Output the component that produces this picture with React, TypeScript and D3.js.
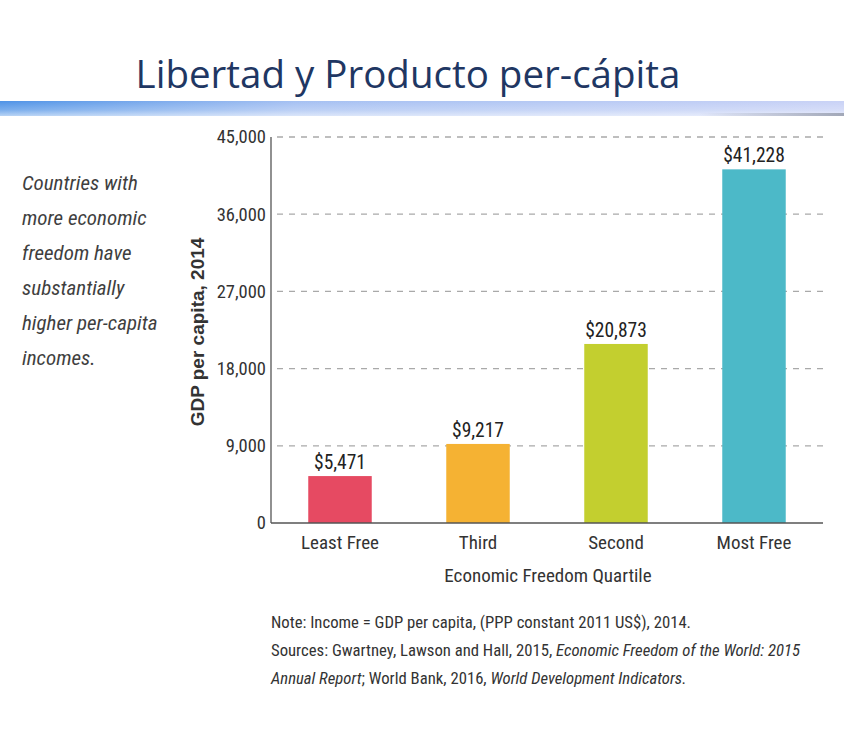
import React, { useEffect, useRef } from 'react';
import * as d3 from 'd3';

const categories = ['Least Free', 'Third', 'Second', 'Most Free'];
const gdpValues = [5471, 9217, 20873, 41228];
const barColors = ['#e64a62', '#f5b233', '#c3cf2f', '#4cb9c8'];
const yTicks = [0, 9000, 18000, 27000, 36000, 45000];
const sideNote = [
  'Countries with',
  'more economic',
  'freedom have',
  'substantially',
  'higher per-capita',
  'incomes.',
];

const narrow = "'Liberation Sans Narrow', 'Roboto Condensed', 'Arial Narrow', sans-serif";

const App: React.FC = () => {
  const svgRef = useRef<SVGSVGElement>(null);

  useEffect(() => {
    if (!svgRef.current) return;
    const svg = d3.select(svgRef.current);
    svg.selectAll('*').remove();

    const width = 866;
    const height = 749;
    svg.append('rect').attr('width', width).attr('height', height).attr('fill', '#fff');

    // Title
    svg.append('text')
      .attr('x', 408)
      .attr('y', 88)
      .attr('text-anchor', 'middle')
      .attr('font-family', "'Open Sans', sans-serif")
      .attr('font-size', 38.5)
      .attr('fill', '#1f3763')
      .text('Libertad y Producto per-cápita');

    // Blue band under the title
    const defs = svg.append('defs');
    const hGrad = defs.append('linearGradient').attr('id', 'bandH').attr('x1', 0).attr('x2', 1).attr('y1', 0).attr('y2', 0);
    hGrad.append('stop').attr('offset', '0%').attr('stop-color', '#4f93e6');
    hGrad.append('stop').attr('offset', '35%').attr('stop-color', '#a5c0f2');
    hGrad.append('stop').attr('offset', '100%').attr('stop-color', '#c9d2f6');
    const vGrad = defs.append('linearGradient').attr('id', 'bandV').attr('x1', 0).attr('x2', 0).attr('y1', 0).attr('y2', 1);
    vGrad.append('stop').attr('offset', '0%').attr('stop-color', '#fff').attr('stop-opacity', 0);
    vGrad.append('stop').attr('offset', '60%').attr('stop-color', '#fff').attr('stop-opacity', 0.25);
    vGrad.append('stop').attr('offset', '100%').attr('stop-color', '#fff').attr('stop-opacity', 0.6);
    const shGrad = defs.append('linearGradient').attr('id', 'bandS').attr('x1', 0).attr('x2', 1).attr('y1', 0).attr('y2', 0);
    shGrad.append('stop').attr('offset', '0%').attr('stop-color', '#9aa0b0').attr('stop-opacity', 0);
    shGrad.append('stop').attr('offset', '100%').attr('stop-color', '#9aa0b0').attr('stop-opacity', 0.9);

    svg.append('rect').attr('x', 0).attr('y', 101).attr('width', 844).attr('height', 15).attr('fill', 'url(#bandH)');
    svg.append('rect').attr('x', 0).attr('y', 101).attr('width', 844).attr('height', 15).attr('fill', 'url(#bandV)');
    svg.append('rect').attr('x', 700).attr('y', 113).attr('width', 144).attr('height', 3).attr('fill', 'url(#bandS)');

    // Side note
    svg.append('g')
      .selectAll('text')
      .data(sideNote)
      .join('text')
      .attr('x', 22)
      .attr('y', (_, i) => 190 + i * 35)
      .attr('font-family', narrow)
      .attr('font-style', 'italic')
      .attr('font-size', 21)
      .attr('fill', '#3f3f3f')
      .text(d => d);

    // Chart
    const margin = { left: 271, right: 43, top: 137, bottom: 226 };
    const x = d3.scaleBand<string>()
      .domain(categories)
      .range([margin.left, width - margin.right])
      .paddingInner(0.54)
      .paddingOuter(0.27);
    const y = d3.scaleLinear()
      .domain([0, 45000])
      .range([height - margin.bottom, margin.top]);

    const g = svg.append('g');

    // Grid lines
    g.append('g')
      .selectAll('line')
      .data(yTicks.filter(t => t > 0))
      .join('line')
      .attr('x1', margin.left + 6)
      .attr('x2', width - margin.right)
      .attr('y1', d => y(d))
      .attr('y2', d => y(d))
      .attr('stroke', '#a9a9a9')
      .attr('stroke-width', 1.3)
      .attr('stroke-dasharray', '6,6');

    // Bars
    g.append('g')
      .selectAll('rect')
      .data(gdpValues)
      .join('rect')
      .attr('x', (_, i) => x(categories[i])!)
      .attr('width', x.bandwidth())
      .attr('y', d => y(d))
      .attr('height', d => y(0) - y(d))
      .attr('fill', (_, i) => barColors[i]);

    // Value labels
    g.append('g')
      .selectAll('text')
      .data(gdpValues)
      .join('text')
      .attr('x', (_, i) => x(categories[i])! + x.bandwidth() / 2)
      .attr('y', d => y(d) - 7)
      .attr('text-anchor', 'middle')
      .attr('font-family', narrow)
      .attr('font-size', 19.5)
      .attr('fill', '#222')
      .text(d => '$' + d3.format(',')(d));

    // Axes lines
    g.append('line')
      .attr('x1', margin.left).attr('x2', margin.left)
      .attr('y1', y(45000)).attr('y2', y(0))
      .attr('stroke', '#555').attr('stroke-width', 1.3);
    g.append('line')
      .attr('x1', margin.left).attr('x2', width - margin.right)
      .attr('y1', y(0)).attr('y2', y(0))
      .attr('stroke', '#555').attr('stroke-width', 1.3);

    // Y tick labels
    g.append('g')
      .selectAll('text')
      .data(yTicks)
      .join('text')
      .attr('x', margin.left - 5)
      .attr('y', d => y(d))
      .attr('dy', '0.35em')
      .attr('text-anchor', 'end')
      .attr('font-family', narrow)
      .attr('font-size', 18.5)
      .attr('fill', '#333')
      .text(d => d3.format(',')(d));

    // X labels
    g.append('g')
      .selectAll('text')
      .data(categories)
      .join('text')
      .attr('x', d => x(d)! + x.bandwidth() / 2)
      .attr('y', y(0) + 26)
      .attr('text-anchor', 'middle')
      .attr('font-family', narrow)
      .attr('font-size', 19)
      .attr('fill', '#333')
      .text(d => d);

    g.append('text')
      .attr('x', 548)
      .attr('y', y(0) + 59)
      .attr('text-anchor', 'middle')
      .attr('font-family', narrow)
      .attr('font-size', 19)
      .attr('fill', '#333')
      .text('Economic Freedom Quartile');

    g.append('text')
      .attr('transform', `translate(204, ${(y(0) + y(45000)) / 2 + 2}) rotate(-90)`)
      .attr('text-anchor', 'middle')
      .attr('font-family', "'Liberation Sans', Arial, sans-serif")
      .attr('font-weight', 'bold')
      .attr('font-size', 19)
      .attr('fill', '#333')
      .text('GDP per capita, 2014');

    // Notes
    const notes = svg.append('g')
      .attr('font-family', narrow)
      .attr('font-size', 16.7)
      .attr('fill', '#333');
    notes.append('text').attr('x', 271).attr('y', 628)
      .text('Note: Income = GDP per capita, (PPP constant 2011 US$), 2014.');
    const l2 = notes.append('text').attr('x', 271).attr('y', 656);
    l2.append('tspan').text('Sources: Gwartney, Lawson and Hall, 2015, ');
    l2.append('tspan').attr('font-style', 'italic').text('Economic Freedom of the World: 2015');
    const l3 = notes.append('text').attr('x', 271).attr('y', 684);
    l3.append('tspan').attr('font-style', 'italic').text('Annual Report');
    l3.append('tspan').text('; World Bank, 2016, ');
    l3.append('tspan').attr('font-style', 'italic').text('World Development Indicators.');
  }, []);

  return (
    <svg
      ref={svgRef}
      width={866}
      height={749}
      style={{ position: 'absolute', left: 0, top: 0, display: 'block' }}
    />
  );
};

export default App;
